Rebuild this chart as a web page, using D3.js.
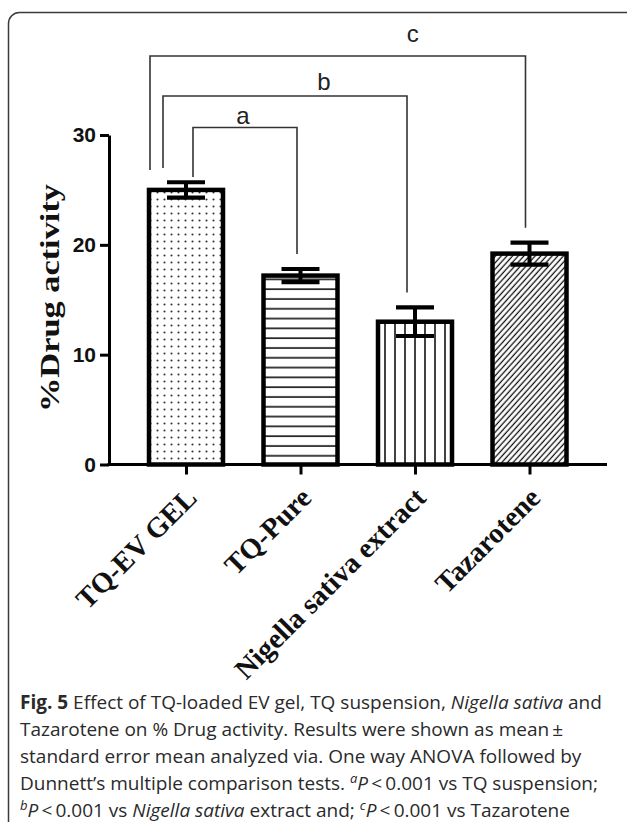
<!DOCTYPE html>
<html>
<head>
<meta charset="utf-8">
<script src="https://cdn.jsdelivr.net/npm/d3@7"></script>
<style>
  body { margin: 0; background: #fff; }
  svg { display: block; }
</style>
</head>
<body>
<svg id="chart"></svg>
<script>
// donnees du graphique
var categories = ["TQ-EV GEL", "TQ-Pure", "Nigella sativa extract", "Tazarotene"]
var moyennes = [25.0, 17.2, 13.0, 19.2]
var erreurs = [0.7, 0.6, 1.3, 1.0]
var motifs = ["points", "horiz", "vert", "diag"]
var yTicks = [0, 10, 20, 30]

// comparaisons : lettre, barre de depart, barre d'arrivee
var comparaisons = [
  ["a", 0, 1],
  ["b", 0, 2],
  ["c", 0, 3]
]

var canevas = d3.select("#chart")
  .attr("width", 627)
  .attr("height", 822)

// cadre arrondi (coupe a droite et en bas)
canevas.append("rect")
  .attr("x", 8.5).attr("y", 12.5)
  .attr("width", 640).attr("height", 840)
  .attr("rx", 11)
  .attr("style", "fill:none;stroke:#3a3a3a;stroke-width:1.5")

var axeX = 109, basY = 464.5
var largeurBarre = 74

var y = d3.scaleLinear().domain([0, 30]).range([basY, 135])
var x = d3.scalePoint().domain(categories).range([186, 529.5])

// motifs de remplissage
var defs = canevas.append("defs")

var p1 = defs.append("pattern").attr("id", "points")
  .attr("patternUnits", "userSpaceOnUse").attr("width", 7).attr("height", 7)
p1.append("circle").attr("cx", 3.5).attr("cy", 3.5).attr("r", 1.05).attr("fill", "#333")

var p2 = defs.append("pattern").attr("id", "horiz")
  .attr("patternUnits", "userSpaceOnUse").attr("width", 10).attr("height", 9.8)
p2.append("line").attr("x1", 0).attr("x2", 10).attr("y1", 5).attr("y2", 5)
  .attr("style", "stroke:#111;stroke-width:1.6")

var p3 = defs.append("pattern").attr("id", "vert")
  .attr("patternUnits", "userSpaceOnUse").attr("width", 10).attr("height", 10)
p3.append("line").attr("x1", 5).attr("x2", 5).attr("y1", 0).attr("y2", 10)
  .attr("style", "stroke:#111;stroke-width:1.6")

var p4 = defs.append("pattern").attr("id", "diag")
  .attr("patternUnits", "userSpaceOnUse").attr("width", 4.2).attr("height", 10)
  .attr("patternTransform", "rotate(42)")
p4.append("line").attr("x1", 2).attr("x2", 2).attr("y1", 0).attr("y2", 10)
  .attr("style", "stroke:#111;stroke-width:1.3")

// barres
canevas.selectAll("rect.barre")
  .data(categories)
  .enter()
  .append("rect")
  .attr("class", "barre")
  .attr("x", function(d){ return x(d) - largeurBarre / 2 })
  .attr("y", function(d, i){ return y(moyennes[i]) })
  .attr("width", largeurBarre)
  .attr("height", function(d, i){ return basY - y(moyennes[i]) })
  .attr("fill", function(d, i){ return "url(#" + motifs[i] + ")" })
  .attr("style", "stroke:#000;stroke-width:4.5")

// barres d'erreur
var err = canevas.selectAll("g.err")
  .data(categories)
  .enter()
  .append("g")
  .attr("class", "err")

err.append("line")
  .attr("x1", function(d){ return x(d) }).attr("x2", function(d){ return x(d) })
  .attr("y1", function(d, i){ return y(moyennes[i] + erreurs[i]) })
  .attr("y2", function(d, i){ return y(moyennes[i] - erreurs[i]) })
  .attr("style", "stroke:#000;stroke-width:4")

err.append("line")
  .attr("x1", function(d){ return x(d) - 19 }).attr("x2", function(d){ return x(d) + 19 })
  .attr("y1", function(d, i){ return y(moyennes[i] + erreurs[i]) })
  .attr("y2", function(d, i){ return y(moyennes[i] + erreurs[i]) })
  .attr("style", "stroke:#000;stroke-width:4.2")

err.append("line")
  .attr("x1", function(d){ return x(d) - 19 }).attr("x2", function(d){ return x(d) + 19 })
  .attr("y1", function(d, i){ return y(moyennes[i] - erreurs[i]) })
  .attr("y2", function(d, i){ return y(moyennes[i] - erreurs[i]) })
  .attr("style", "stroke:#000;stroke-width:4.2")

// axe y
var gy = canevas.append("g")
  .attr("transform", "translate(" + axeX + ",0)")
  .call(d3.axisLeft(y).tickValues(yTicks).tickSize(9).tickSizeOuter(0).tickPadding(4))
gy.select(".domain").attr("style", "stroke:#000;stroke-width:3")
gy.selectAll(".tick line").attr("style", "stroke:#000;stroke-width:3")
gy.selectAll(".tick text")
  .attr("style", "font-family:'Liberation Sans',Arial,sans-serif;font-weight:bold;font-size:21px;fill:#111")

// axe x
canevas.append("line")
  .attr("x1", axeX - 1.5).attr("x2", x(categories[3]) + 77.5)
  .attr("y1", basY).attr("y2", basY)
  .attr("style", "stroke:#000;stroke-width:3")

var gx = canevas.append("g")
  .attr("transform", "translate(0," + basY + ")")
  .call(d3.axisBottom(x).tickSize(10).tickSizeOuter(0))
gx.select(".domain").remove()
gx.selectAll(".tick line").attr("style", "stroke:#000;stroke-width:3")
gx.selectAll(".tick text")
  .attr("text-anchor", "end")
  .attr("x", 0).attr("y", 0).attr("dy", 0)
  .attr("transform", "translate(12,35) rotate(-45)")
  .attr("style", "font-family:'Liberation Serif','Times New Roman',serif;font-weight:bold;font-size:28.5px;fill:#111")

// titre axe y
canevas.append("text")
  .text("%Drug activity")
  .attr("text-anchor", "middle")
  .attr("textLength", 228)
  .attr("lengthAdjust", "spacingAndGlyphs")
  .attr("transform", "translate(59,298) rotate(-90)")
  .attr("style", "font-family:'Liberation Serif','Times New Roman',serif;font-weight:bold;font-size:27px;fill:#111")

// crochets de significativite
var niveaux = { a: 127.5, b: 96, c: 56 }
var departX = { a: 7, b: -23, c: -36 }
var departBas = { a: 177, b: 168, c: 170 }
var arriveeX = { a: -3.5, b: -8, c: -4 }
var posLettre = { a: 0.48, b: 0.66, c: 0.70 }
var hautLettre = { a: 3.5, b: 6, c: 14 }

comparaisons.forEach(function(c){
  var xa = x(categories[c[1]]) + departX[c[0]]
  var xb = x(categories[c[2]]) + arriveeX[c[0]]
  var haut = niveaux[c[0]]
  var basB = y(moyennes[c[2]] + erreurs[c[2]]) - 15
  canevas.append("path")
    .attr("d", "M" + xa + "," + departBas[c[0]] + "V" + haut + "H" + xb + "V" + basB)
    .attr("style", "fill:none;stroke:#333;stroke-width:1.6")
  canevas.append("text")
    .text(c[0])
    .attr("x", xa + (xb - xa) * posLettre[c[0]])
    .attr("y", haut - hautLettre[c[0]])
    .attr("text-anchor", "middle")
    .attr("style", "font-family:'Liberation Sans',Arial,sans-serif;font-size:24px;fill:#222")
})

// legende de la figure
var legende = [
  [["Fig. 5", "b"], [" Effect of TQ-loaded EV gel, TQ suspension, ", ""], ["Nigella sativa", "i"], [" and", ""]],
  [["Tazarotene on % Drug activity. Results were shown as mean\u2009\u00b1", ""]],
  [["standard error mean analyzed via. One way ANOVA followed by", ""]],
  [["Dunnett\u2019s multiple comparison tests. ", ""], ["a", "si"], ["P", "i"], ["\u2009<\u20090.001 vs TQ suspension;", ""]],
  [["b", "si"], ["P", "i"], ["\u2009<\u20090.001 vs ", ""], ["Nigella sativa", "i"], [" extract and; ", ""], ["c", "si"], ["P", "i"], ["\u2009<\u20090.001 vs Tazarotene", ""]]
]

var cap = canevas.append("text")
  .attr("style", "font-family:'Open Sans','Noto Sans',sans-serif;font-size:19px;fill:#2a2a2a")

legende.forEach(function(ligne, i){
  ligne.forEach(function(morceau, j){
    var t = cap.append("tspan").text(morceau[0])
    if (j == 0) t.attr("x", 20).attr("y", 709 + i * 27)
    if (morceau[1] == "b") t.attr("font-weight", "bold")
    if (morceau[1] == "i") t.attr("font-style", "italic")
    if (morceau[1] == "si") {
      t.attr("font-style", "italic").attr("font-size", "13px").attr("dy", -7)
    }
    // retour a la ligne de base apres l'exposant
    if (j > 0 && ligne[j-1][1] == "si") t.attr("dy", 7)
  })
})
</script>
</body>
</html>
